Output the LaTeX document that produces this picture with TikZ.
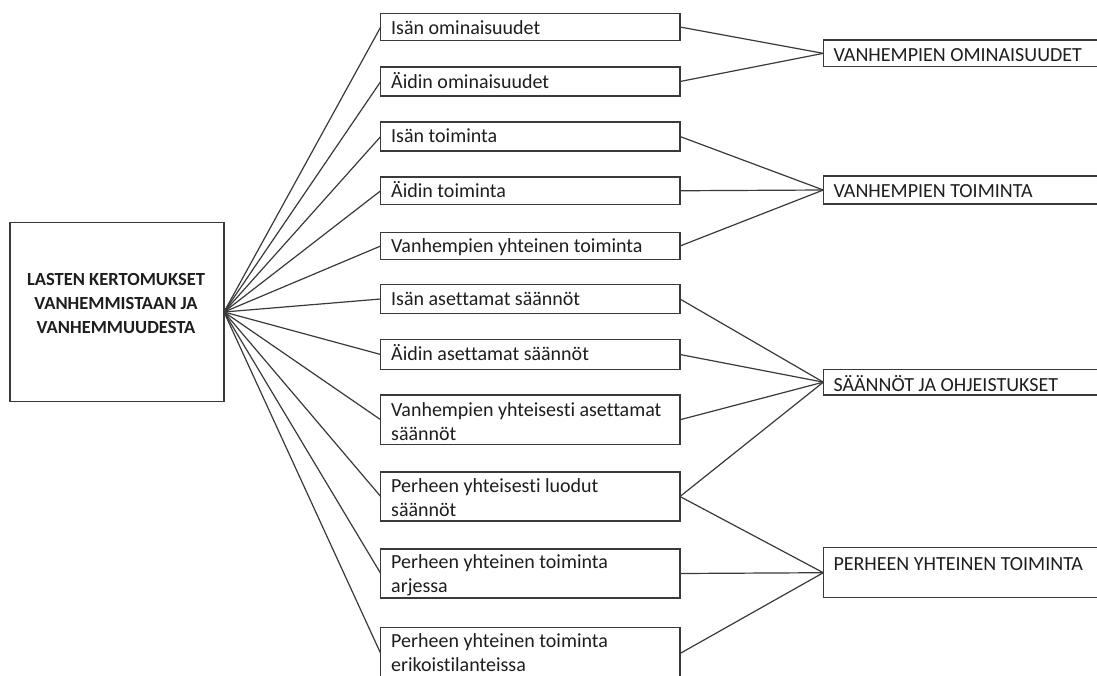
\documentclass[tikz,border=0pt]{standalone}
\usepackage{fontspec}
\setmainfont{Carlito}[Ligatures=NoCommon]
\definecolor{linec}{HTML}{3A3A3A}
\definecolor{txtc}{HTML}{1E1E1E}
\tikzset{
  box/.style={draw=linec, line width=1.3pt, inner sep=0pt, outer sep=0pt, anchor=north west, fill=white},
  lbl/.style={anchor=base west, inner sep=0pt, align=left, text=txtc, font=\fontsize{20}{24}\selectfont},
  conn/.style={draw=linec, line width=1.2pt},
}
\begin{document}
\begin{tikzpicture}[x=1pt,y=-1pt]
\useasboundingbox (0,0) rectangle (1097,675);
\clip (0,0) rectangle (1097,675);
\fill[white] (0,0) rectangle (1097,675);
% left box
\node[box, minimum width=214pt, minimum height=179.4pt] (L) at (10,222.3) {};
\node[anchor=base, inner sep=0pt, align=center, text=txtc, font=\bfseries\fontsize{18.5}{24}\selectfont] (Lt) at (116,333) {LASTEN KERTOMUKSET\\VANHEMMISTAAN JA\\VANHEMMUUDESTA};
% middle boxes
\node[box, minimum width=299.3pt, minimum height=27pt] (m1) at (380.7,13.5) {};
\node[box, minimum width=299.3pt, minimum height=29pt] (m2) at (380.7,67) {};
\node[box, minimum width=299.3pt, minimum height=29pt] (m3) at (380.7,122) {};
\node[box, minimum width=299.3pt, minimum height=27.5pt] (m4) at (380.7,177) {};
\node[box, minimum width=299.3pt, minimum height=27pt] (m5) at (380.7,232.5) {};
\node[box, minimum width=299.3pt, minimum height=29pt] (m6) at (380.7,284.5) {};
\node[box, minimum width=299.3pt, minimum height=30pt] (m7) at (380.7,339.5) {};
\node[box, minimum width=299.3pt, minimum height=49.5pt] (m8) at (380.7,395) {};
\node[box, minimum width=299.3pt, minimum height=49pt] (m9) at (380.7,472) {};
\node[box, minimum width=299.3pt, minimum height=49pt] (m10) at (380.7,549) {};
\node[box, minimum width=299.3pt, minimum height=52pt] (m11) at (380.7,627.5) {};
% right boxes
\node[box, minimum width=300pt, minimum height=26.7pt] (r1) at (823.3,40) {};
\node[box, minimum width=300pt, minimum height=28pt] (r2) at (823.3,176) {};
\node[box, minimum width=300pt, minimum height=25.7pt] (r3) at (823.3,369.3) {};
\node[box, minimum width=300pt, minimum height=50pt] (r4) at (823.3,547.7) {};
% connectors from hub
\foreach \m in {m1,m2,m3,m4,m5,m6,m7,m8,m9,m10,m11}
  \draw[conn] (L.east) -- (\m.west);
% connectors to right
\draw[conn] (m1.east) -- (r1.west);
\draw[conn] (m2.east) -- (r1.west);
\draw[conn] (m3.east) -- (r2.west);
\draw[conn] (m4.east) -- (r2.west);
\draw[conn] (m5.east) -- (r2.west);
\draw[conn] (m6.east) -- (r3.west);
\draw[conn] (m7.east) -- (r3.west);
\draw[conn] (m8.east) -- (r3.west);
\draw[conn] (m9.east) -- (r3.west);
\draw[conn] (m9.east) -- (r4.west);
\draw[conn] (m10.east) -- (r4.west);
\draw[conn] (m11.east) -- (r4.west);
% middle texts (multi-line nodes: base = last line)
\node[lbl] (t1) at (391,34.5) {Isän ominaisuudet};
\node[lbl] (t2) at (391,88) {Äidin ominaisuudet};
\node[lbl] (t3) at (391,142.7) {Isän toiminta};
\node[lbl] (t4) at (391,197.3) {Äidin toiminta};
\node[lbl] (t5) at (391,252.5) {Vanhempien yhteinen toiminta};
\node[lbl] (t6) at (391,305) {Isän asettamat säännöt};
\node[lbl] (t7) at (391,360) {Äidin asettamat säännöt};
\node[lbl] (t8) at (391,440.7) {Vanhempien yhteisesti asettamat\\säännöt};
\node[lbl] (t9) at (391,516.7) {Perheen yhteisesti luodut\\säännöt};
\node[lbl] (t10) at (391,592.7) {Perheen yhteinen toiminta\\arjessa};
\node[lbl] (t11) at (391,671.7) {Perheen yhteinen toiminta\\erikoistilanteissa};
% right texts
\node[lbl] (u1) at (833.3,61.7) {VANHEMPIEN OMINAISUUDET};
\node[lbl] (u2) at (833.3,197.3) {VANHEMPIEN TOIMINTA};
\node[lbl] (u3) at (833.3,391.5) {SÄÄNNÖT JA OHJEISTUKSET};
\node[lbl] (u4) at (833.3,570) {PERHEEN YHTEINEN TOIMINTA};
\end{tikzpicture}
\end{document}
